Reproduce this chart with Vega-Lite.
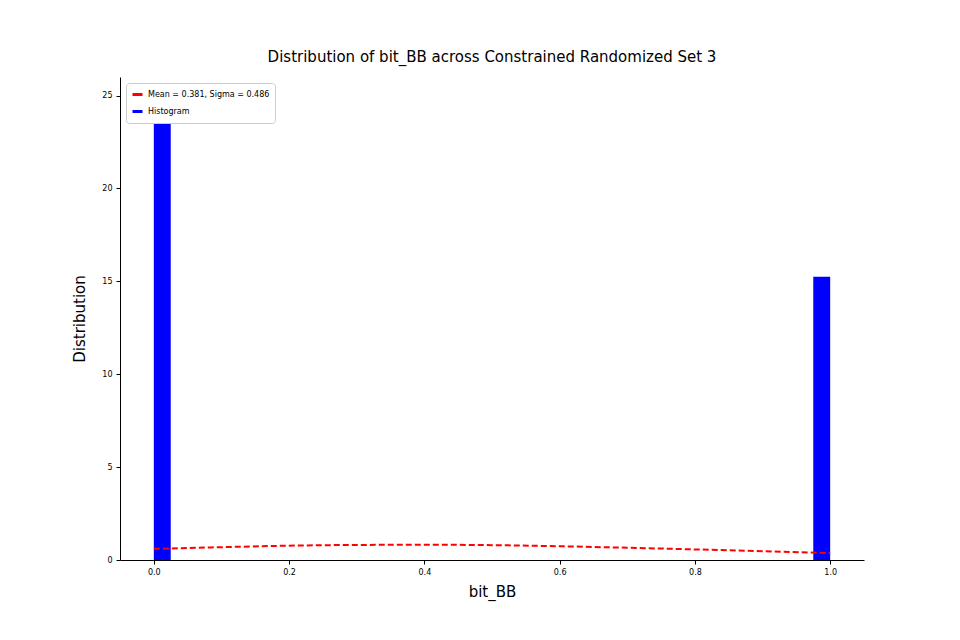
{
  "$schema": "https://vega.github.io/schema/vega-lite/v6.json",
  "width": 744,
  "height": 483,
  "autosize": "none",
  "padding": {"left": 120, "top": 77, "right": 96, "bottom": 80},
  "title": {"text": "Distribution of bit_BB across Constrained Randomized Set 3", "fontSize": 15, "fontWeight": "normal", "font": "DejaVu Sans", "offset": 12},
  "layer": [
    {
      "data": {"values": [
        {"x0": 0.0, "x1": 0.025, "h": 24.75},
        {"x0": 0.975, "x1": 1.0, "h": 15.25}
      ]},
      "mark": {"type": "rect"},
      "encoding": {
        "x": {"field": "x0", "type": "quantitative", "scale": {"domain": [-0.05, 1.05], "nice": false, "zero": false}, "title": "bit_BB",
          "axis": {"values": [0, 0.2, 0.4, 0.6, 0.8, 1.0], "format": ".1f"}},
        "x2": {"field": "x1"},
        "y": {"field": "h", "type": "quantitative", "scale": {"domain": [0, 26], "nice": false}, "title": "Distribution",
          "axis": {"values": [0, 5, 10, 15, 20, 25]}},
        "y2": {"datum": 0},
        "color": {"datum": "Histogram", "type": "nominal",
          "scale": {"domain": ["Mean = 0.381, Sigma = 0.486", "Histogram"], "range": ["red", "blue"]}}
      }
    },
    {
      "data": {"values": [
        {"x": 0.0, "y": 0.60}, {"x": 0.1, "y": 0.69}, {"x": 0.2, "y": 0.77},
        {"x": 0.3, "y": 0.81}, {"x": 0.4, "y": 0.82}, {"x": 0.5, "y": 0.80},
        {"x": 0.6, "y": 0.74}, {"x": 0.7, "y": 0.66}, {"x": 0.8, "y": 0.57},
        {"x": 0.9, "y": 0.47}, {"x": 1.0, "y": 0.37}
      ]},
      "mark": {"type": "line", "strokeDash": [6, 3], "strokeWidth": 2, "interpolate": "monotone"},
      "encoding": {
        "x": {"field": "x", "type": "quantitative"},
        "y": {"field": "y", "type": "quantitative"},
        "color": {"datum": "Mean = 0.381, Sigma = 0.486", "type": "nominal"}
      }
    }
  ],
  "config": {
    "font": "DejaVu Sans",
    "view": {"stroke": null},
    "axis": {"grid": false, "labelFontSize": 8, "titleFontSize": 15, "titleFontWeight": "normal", "domainColor": "black", "tickColor": "black", "labelColor": "black", "tickSize": 4, "labelPadding": 4},
    "axisX": {"titlePadding": 8},
    "axisY": {"titlePadding": 14},
    "legend": {"orient": "top-left", "offset": 6, "title": null, "labelFontSize": 8, "symbolType": "stroke", "symbolStrokeWidth": 3, "strokeColor": "#cccccc", "fillColor": "white", "padding": 5, "cornerRadius": 3, "rowPadding": 4}
  }
}
